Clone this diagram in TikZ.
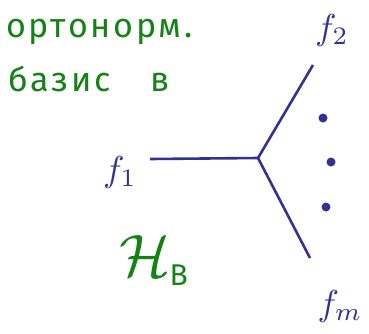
\documentclass[tikz,border=0pt]{standalone}
\usepackage{fontspec}
\setmainfont{Fira Sans}
\newfontfamily\handfont[LetterSpace=8]{Fira Sans}
\definecolor{ink}{RGB}{50,50,150}
\definecolor{grn}{RGB}{20,130,20}
\tikzset{
  edge/.style={ink, line width=2.6pt},
  lab/.style={ink, inner sep=0pt, scale=3.6},
  gtxt/.style={grn, font=\handfont\fontsize{34}{34}\selectfont, inner sep=0pt, anchor=base west},
  vdot/.style={ink, fill=ink, circle, minimum size=9pt, inner sep=0pt}
}
\begin{document}
\begin{tikzpicture}[x=1pt,y=-1pt]
\useasboundingbox (0,0) rectangle (369,333);
\node[gtxt] (t1) at (6,37) {ортонорм.};
\node[gtxt] (t2) at (8,91) {базис\hspace{40pt}в};
\coordinate (c) at (258,158);
\coordinate (e1) at (150,159);
\coordinate (e2) at (313,65);
\coordinate (em) at (310,258);
\draw[edge] (e1) -- (c);
\draw[edge] (c) -- (e2);
\draw[edge] (c) -- (em);
\node[vdot] (d1) at (323,118) {};
\node[vdot] (d2) at (331,162) {};
\node[vdot] (d3) at (326,207) {};
\node[lab] (f1) at (120,172) {$f_1$};
\node[lab] (f2) at (332,30) {$f_2$};
\node[lab] (fm) at (340,306) {$f_m$};
\node[grn, inner sep=0pt, scale=6] (H) at (155,260) {$\mathcal{H}_{\scriptscriptstyle\mathrm{B}}$};
\end{tikzpicture}
\end{document}
